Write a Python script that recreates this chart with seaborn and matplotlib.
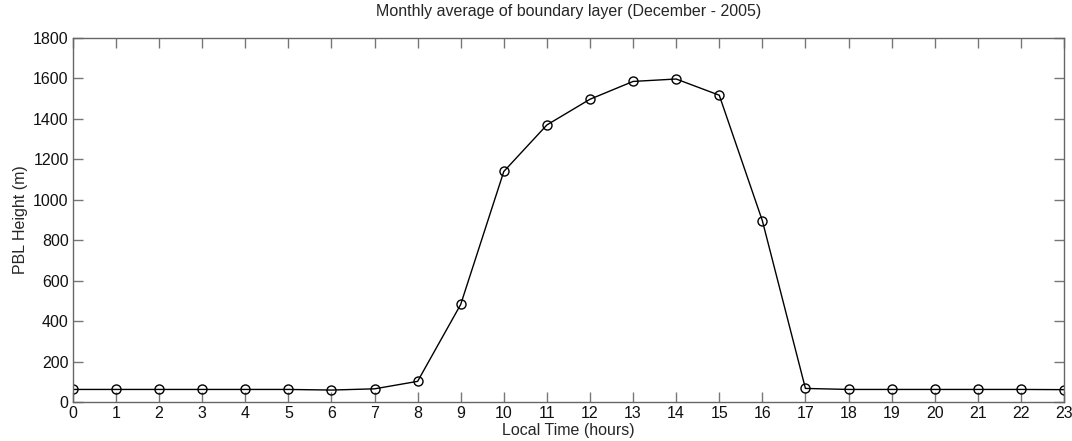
import matplotlib
matplotlib.use("Agg")
import matplotlib.pyplot as plt
import seaborn as sns
import pandas as pd

hours = list(range(24))
pbl_height = [63, 63, 63, 63, 63, 63, 60, 66, 103, 483, 1140, 1370, 1497, 1585, 1597, 1517, 897, 68, 63, 63, 63, 63, 63, 62]
x_ticks = list(range(0, 24))
y_ticks = list(range(0, 1801, 200))

sns.set_theme(style="white")
plt.rcParams['font.family'] = ['Liberation Sans', 'DejaVu Sans']

df = pd.DataFrame({"hour": hours, "pbl": pbl_height})

fig = plt.figure(figsize=(10.72, 4.41), dpi=100)
ax = fig.add_axes([0.068, 0.088, 0.9245, 0.826])
sns.lineplot(data=df, x="hour", y="pbl", ax=ax, color="black", linewidth=1.0,
             marker="o", markersize=6.5, markerfacecolor="none",
             markeredgecolor="black", markeredgewidth=1.0)

ax.set_xlim(0, 23)
ax.set_ylim(0, 1800)
ax.set_xticks(x_ticks)
ax.set_yticks(y_ticks)
ax.tick_params(direction="in", length=7, width=1, color="#777777",
               top=True, right=True, labelsize=11.5, labelcolor="#111111", pad=3)
ax.tick_params(axis="both", which="both", bottom=True, left=True)
for s in ax.spines.values():
    s.set_visible(True)
    s.set_color("#666666")
    s.set_linewidth(1.0)
ax.set_xlabel("Local Time (hours)", fontsize=11.5, labelpad=1)
ax.set_ylabel("PBL Height (m)", fontsize=11.5, labelpad=4)
ax.set_title("Monthly average of boundary layer (December - 2005)", fontsize=11.5, pad=16)
fig.savefig("out.png", dpi=100)
